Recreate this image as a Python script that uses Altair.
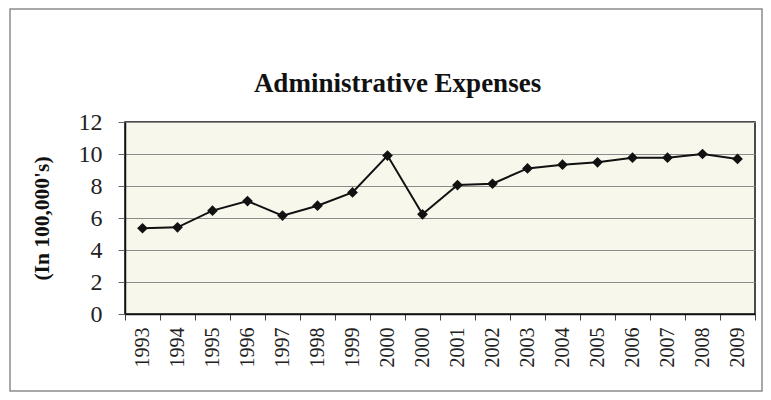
import json
import altair as alt
import pandas as pd

TITLE = "Administrative Expenses"
Y_TITLE = "(In 100,000's)"
YEARS = ["1993", "1994", "1995", "1996", "1997", "1998", "1999", "2000", "2000",
         "2001", "2002", "2003", "2004", "2005", "2006", "2007", "2008", "2009"]
VALUES = [5.36, 5.42, 6.46, 7.06, 6.15, 6.77, 7.6, 9.9, 6.23,
          8.06, 8.14, 9.1, 9.33, 9.48, 9.77, 9.77, 10.0, 9.69]
Y_TICKS = [0, 2, 4, 6, 8, 10, 12]

FONT = "Liberation Serif"

df = pd.DataFrame({"idx": list(range(len(YEARS))), "year": YEARS, "value": VALUES})
label_expr = json.dumps(YEARS) + "[datum.value]"

x_enc = alt.X(
    "idx:O",
    bandPosition=0.5,
    scale=alt.Scale(type="band", paddingInner=0, paddingOuter=0),
    axis=alt.Axis(
        title=None, labelAngle=270, labelExpr=label_expr, tickBand="extent",
        labelFont=FONT, labelFontSize=20, labelColor="#222", labelPadding=7,
        tickSize=6, tickColor="#444", domainColor="#111", domainWidth=1.5,
        grid=False,
    ),
)
y_enc = alt.Y(
    "value:Q",
    scale=alt.Scale(domain=[0, 12], nice=False),
    axis=alt.Axis(
        values=Y_TICKS, title=Y_TITLE, titleFont=FONT, titleFontSize=21.5,
        titleFontWeight="bold", titleColor="#111", titleX=-82.5, titleY=96,
        titleAngle=270, titleAlign="center", titleBaseline="middle",
        labelFont=FONT, labelFontSize=24, labelColor="#222", labelPadding=16,
        tickSize=7, tickColor="#666", domainColor="#111", domainWidth=1.5,
        grid=True, gridColor="#8a8a8a", gridWidth=1,
    ),
)

base = alt.Chart(df).encode(x=x_enc, y=y_enc)
line = base.mark_line(color="#111", strokeWidth=2)
pts = base.mark_point(shape="diamond", filled=True, size=115, color="#111", opacity=1)

frame = alt.Chart(pd.DataFrame({"f": [0]})).mark_rect(
    fillOpacity=0, stroke="#8c8c8c", strokeWidth=1.5
).encode(
    x=alt.value(-115), x2=alt.value(637), y=alt.value(-113), y2=alt.value(269)
)

title_txt = alt.Chart(pd.DataFrame({"t": [TITLE]})).mark_text(
    font=FONT, fontSize=27, fontWeight="bold", align="center",
    baseline="alphabetic", color="#111"
).encode(text="t:N", x=alt.value(272.5), y=alt.value(-30))

chart = alt.layer(frame, line, pts, title_txt).properties(
    width=630, height=192,
    padding={"left": 117, "top": 114, "right": 8, "bottom": 78},
    autosize=alt.AutoSizeParams(type="none"),
    background="white",
).configure_view(
    fill="#F8F7EC", stroke="#111", strokeWidth=1.5
)

chart.save("out.html", embed_options={"renderer": "svg", "actions": False})
